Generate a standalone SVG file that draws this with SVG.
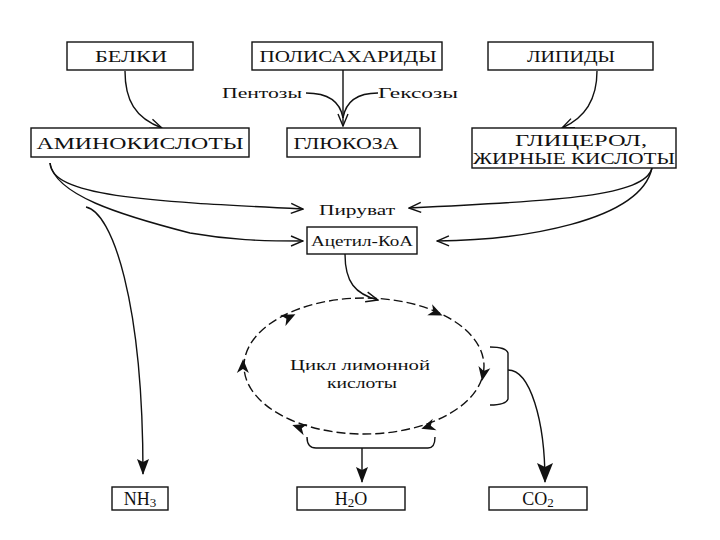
<svg xmlns="http://www.w3.org/2000/svg" width="720" height="540" viewBox="0 0 720 540">
<style>
.box{fill:#fff;stroke:#111;stroke-width:1.4}
.t{font-family:"Liberation Serif","DejaVu Serif",serif;font-size:16px;fill:#111;text-anchor:middle}
.s{font-family:"Liberation Serif","DejaVu Serif",serif;font-size:15px;fill:#111;text-anchor:middle}
.b{font-family:"Liberation Serif","DejaVu Serif",serif;font-size:18px;fill:#111;text-anchor:middle}
.ln{fill:none;stroke:#111;stroke-width:1.4}
.dash{fill:none;stroke:#111;stroke-width:1.4;stroke-dasharray:9 4}
</style>
<defs>
<marker id="chev" markerUnits="userSpaceOnUse" markerWidth="14" markerHeight="12" viewBox="0 0 14 12" refX="13" refY="6" orient="auto">
<path d="M1,1 L13,6 L1,11" fill="none" stroke="#111" stroke-width="1.4"/>
</marker>
<marker id="fill" markerUnits="userSpaceOnUse" markerWidth="16" markerHeight="12" viewBox="0 0 16 12" refX="15" refY="6" orient="auto">
<path d="M0,0 L16,6 L0,12 L3,6 z" fill="#111"/>
</marker>
<marker id="fillBig" markerUnits="userSpaceOnUse" markerWidth="20" markerHeight="16" viewBox="0 0 20 16" refX="19" refY="8" orient="auto">
<path d="M0,0 L20,8 L0,16 L4,8 z" fill="#111"/>
</marker>
<path id="ah" d="M6,0 L-8,-6 L-4,0 L-8,6 z" fill="#111"/>
</defs>

<g id="connectors">
<path class="ln" d="M125,71 C125,100 135,118 162,128" marker-end="url(#chev)"/>
<path class="ln" d="M343,70 L343,126" marker-end="url(#chev)"/>
<path class="ln" d="M306,93 C325,93 340,100 343,118"/>
<path class="ln" d="M378,93 C360,93 346,100 343,118"/>
<path class="ln" d="M597,71 C597,100 585,118 562,128" marker-end="url(#chev)"/>
<path class="ln" d="M50,163 C52,196 140,201 303,209" marker-end="url(#chev)"/>
<path class="ln" d="M50,163 C55,195 120,215 190,233 C230,240 260,241 303,241" marker-end="url(#chev)"/>
<path class="ln" d="M86,207 C112,212 143,300 143,474" marker-end="url(#fill)"/>
<path class="ln" d="M652,168 C645,196 560,201 409,208" marker-end="url(#chev)"/>
<path class="ln" d="M652,168 C640,222 520,240 437,241" marker-end="url(#chev)"/>
<path class="ln" d="M345,254 C345,282 355,294 378,300" marker-end="url(#chev)"/>
<path class="ln" d="M490,347 Q506,347 508,353 L508,399 Q506,405 490,405"/>
<path class="ln" d="M508,370 C530,370 545,420 545,482" marker-end="url(#fillBig)"/>
<path class="ln" d="M307,437 Q307,448 316,448 L428,448 Q435,448 435,437"/>
<path class="ln" d="M362,448 L362,482" marker-end="url(#fill)"/>
</g>

<g id="cycle">
<ellipse class="dash" cx="364" cy="366" rx="120" ry="68"/>
<use href="#ah" transform="translate(290,317) rotate(-26)"/>
<use href="#ah" transform="translate(437,313) rotate(24)"/>
<use href="#ah" transform="translate(483,375) rotate(100)"/>
<use href="#ah" transform="translate(427,427) rotate(162)"/>
<use href="#ah" transform="translate(298,427) rotate(199)"/>
<use href="#ah" transform="translate(243,365) rotate(-89)"/>
<text class="s" x="360" y="370" textLength="140" lengthAdjust="spacingAndGlyphs">Цикл лимонной</text>
<text class="s" x="362" y="388" textLength="70" lengthAdjust="spacingAndGlyphs">кислоты</text>
</g>

<g id="belki"><rect class="box" x="67" y="42" width="126" height="28"/><text class="t" x="131" y="62" textLength="72" lengthAdjust="spacingAndGlyphs">БЕЛКИ</text></g>
<g id="polisaharidy"><rect class="box" x="252" y="42" width="190" height="28"/><text class="t" x="348" y="62" textLength="177" lengthAdjust="spacingAndGlyphs">ПОЛИСАХАРИДЫ</text></g>
<g id="lipidy"><rect class="box" x="488" y="42" width="165" height="28"/><text class="t" x="571" y="62" textLength="88" lengthAdjust="spacingAndGlyphs">ЛИПИДЫ</text></g>
<g id="pentozy"><text class="s" x="262" y="98" textLength="80" lengthAdjust="spacingAndGlyphs">Пентозы</text></g>
<g id="geksozy"><text class="s" x="418" y="98" textLength="80" lengthAdjust="spacingAndGlyphs">Гексозы</text></g>
<g id="aminokisloty"><rect class="box" x="31" y="128" width="218" height="29"/><text class="t" x="140" y="149" textLength="207" lengthAdjust="spacingAndGlyphs">АМИНОКИСЛОТЫ</text></g>
<g id="glukoza"><rect class="box" x="287" y="128" width="133" height="29"/><text class="t" x="346" y="149" textLength="105" lengthAdjust="spacingAndGlyphs">ГЛЮКОЗА</text></g>
<g id="glicerol"><rect class="box" x="472" y="128" width="204" height="40"/><text class="t" x="581" y="146" textLength="132" lengthAdjust="spacingAndGlyphs">ГЛИЦЕРОЛ,</text><text class="t" x="574" y="164" textLength="202" lengthAdjust="spacingAndGlyphs">ЖИРНЫЕ КИСЛОТЫ</text></g>
<g id="piruvat"><text class="s" x="357" y="215" textLength="76" lengthAdjust="spacingAndGlyphs">Пируват</text></g>
<g id="acetilkoa"><rect class="box" x="307" y="227" width="110" height="27"/><text class="s" x="362" y="246" textLength="102" lengthAdjust="spacingAndGlyphs">Ацетил-КоА</text></g>
<g id="nh3"><rect class="box" x="112" y="487" width="56" height="23"/><text class="b" x="140" y="505">NH<tspan font-size="13" dy="2">3</tspan></text></g>
<g id="h2o"><rect class="box" x="297" y="487" width="108" height="23"/><text class="b" x="351" y="505">H<tspan font-size="13" dy="2">2</tspan><tspan dy="-2">O</tspan></text></g>
<g id="co2"><rect class="box" x="489" y="487" width="98" height="23"/><text class="b" x="538" y="505">CO<tspan font-size="13" dy="2">2</tspan></text></g>
</svg>
